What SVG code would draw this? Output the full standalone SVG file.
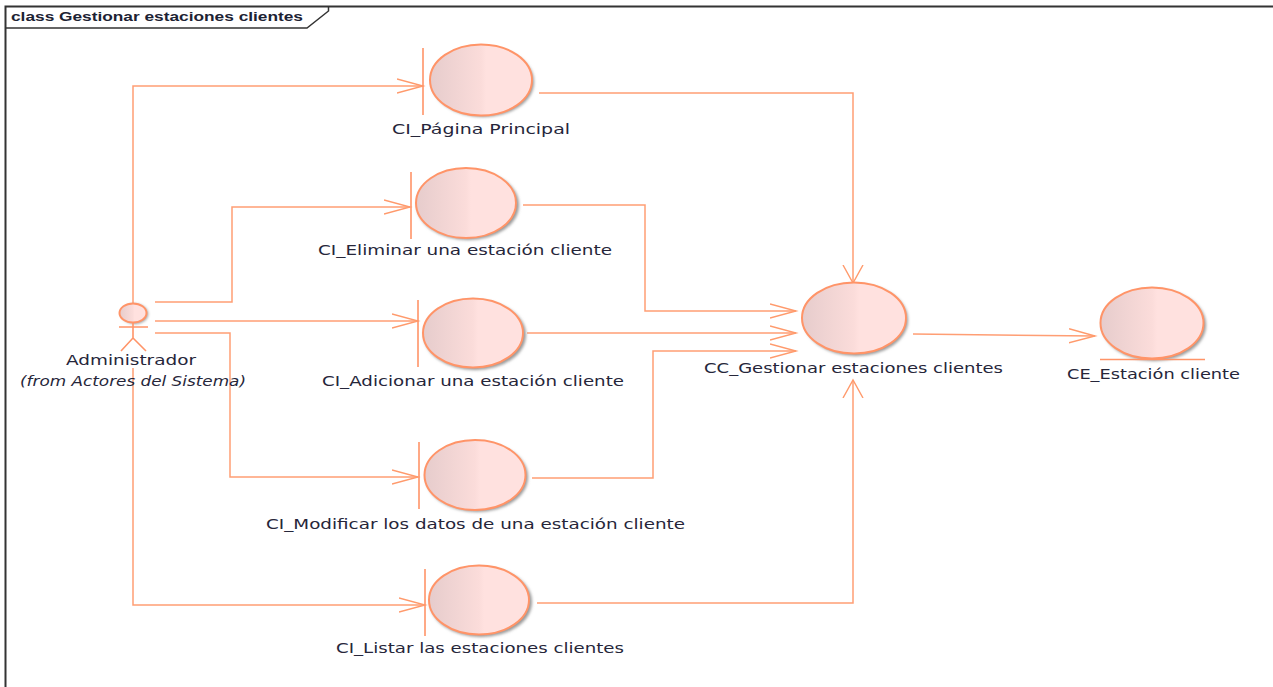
<svg xmlns="http://www.w3.org/2000/svg" width="1273" height="687" viewBox="0 0 1273 687">
<defs>
<linearGradient id="g" x1="0" x2="1" y1="0" y2="0"><stop offset="0" stop-color="#e6cccc"/><stop offset="0.5" stop-color="#fbdcda"/><stop offset="0.55" stop-color="#ffe1df"/><stop offset="1" stop-color="#ffe1df"/></linearGradient>
<marker id="a" markerUnits="userSpaceOnUse" markerWidth="30" markerHeight="24" refX="26" refY="12" orient="auto"><path d="M0 5 L26 12 L0 19" fill="none" stroke="#ff9a6c" stroke-width="1.4"/></marker>
<marker id="v" markerUnits="userSpaceOnUse" markerWidth="24" markerHeight="24" refX="18" refY="12" orient="auto"><path d="M0 2 L18 12 L0 22" fill="none" stroke="#ff9a6c" stroke-width="1.4"/></marker>
<filter id="s" x="-20%" y="-20%" width="150%" height="150%"><feGaussianBlur stdDeviation="1.5"/></filter>
</defs>
<style>
text{font-family:"DejaVu Sans","Open Sans",sans-serif;font-size:14.6px;fill:#26263a}
.c{fill:none;stroke:#ff9e74;stroke-width:1.5;marker-end:url(#a)}
.cv{fill:none;stroke:#ff9e74;stroke-width:1.5;marker-end:url(#v)}
.b{fill:url(#g);stroke:#ff9468;stroke-width:2}
.sh{fill:#999;filter:url(#s)}
.l{fill:none;stroke:#ff9468;stroke-width:1.6}
</style>
<rect width="1273" height="687" fill="#fff"/>
<g id="frame" fill="none" stroke="#333" stroke-width="1.5">
<path d="M5.500 687V6.500H1273" stroke-width="2"/>
<path d="M5.500 28H307L328.500 11V6.500"/>
<text x="11" y="21" textLength="292" lengthAdjust="spacingAndGlyphs" style="font-family:'Liberation Sans',sans-serif;font-size:12px;font-weight:bold;fill:#1c2233;stroke:none">class Gestionar estaciones clientes</text>
</g>
<g id="connectors">
<path class="c" d="M133 303V86H423"/>
<path class="c" d="M155 302H232V207H410"/>
<path class="c" d="M155 321H418"/>
<path class="c" d="M155 333H230V477H418"/>
<path class="c" d="M133 368V605H425"/>
<path class="cv" d="M539 93H853V283"/>
<path class="c" d="M523 205H645V311H796"/>
<path class="c" d="M527 333H796"/>
<path class="c" d="M532 478H653V351H796"/>
<path class="cv" d="M537 603H853V380"/>
<path class="c" d="M913 334L1095 336"/>
</g>
<g id="admin">
<ellipse class="sh" cx="135" cy="314" rx="13" ry="10"/>
<ellipse class="b" cx="133" cy="313" rx="13.500" ry="9.500"/>
<path class="l" d="M119 327H148M133 323V338L121 351M133 338L146 351"/>
<text x="66" y="365" textLength="130" lengthAdjust="spacingAndGlyphs">Administrador</text>
<text x="20" y="386" textLength="226" lengthAdjust="spacingAndGlyphs" style="font-style:italic">(from Actores del Sistema)</text>
</g>
<g id="pagina">
<ellipse class="sh" cx="483" cy="82" rx="51" ry="35"/>
<ellipse class="b" cx="481" cy="80" rx="51" ry="35.500"/>
<path class="l" d="M423 48V115"/>
<text x="392" y="134" textLength="178" lengthAdjust="spacingAndGlyphs">CI_Página Principal</text>
</g>
<g id="eliminar">
<ellipse class="sh" cx="468" cy="205" rx="51" ry="35"/>
<ellipse class="b" cx="466" cy="203" rx="50" ry="35"/>
<path class="l" d="M411 172V239"/>
<text x="318" y="255" textLength="294" lengthAdjust="spacingAndGlyphs">CI_Eliminar una estación cliente</text>
</g>
<g id="adicionar">
<ellipse class="sh" cx="475" cy="335" rx="51" ry="35"/>
<ellipse class="b" cx="473" cy="333" rx="50" ry="34.500"/>
<path class="l" d="M418 300V367"/>
<text x="322" y="386" textLength="302" lengthAdjust="spacingAndGlyphs">CI_Adicionar una estación cliente</text>
</g>
<g id="modificar">
<ellipse class="sh" cx="477" cy="477" rx="51" ry="35"/>
<ellipse class="b" cx="475" cy="475" rx="50.500" ry="35"/>
<path class="l" d="M419 442V509"/>
<text x="266" y="529" textLength="419" lengthAdjust="spacingAndGlyphs">CI_Modificar los datos de una estación cliente</text>
</g>
<g id="listar">
<ellipse class="sh" cx="481" cy="602" rx="51" ry="35"/>
<ellipse class="b" cx="479" cy="600" rx="50" ry="34.500"/>
<path class="l" d="M425 569V636"/>
<text x="336" y="653" textLength="288" lengthAdjust="spacingAndGlyphs">CI_Listar las estaciones clientes</text>
</g>
<g id="control">
<ellipse class="sh" cx="856" cy="320" rx="52" ry="36"/>
<ellipse class="b" cx="854" cy="318" rx="52" ry="35.500"/>
<text x="704" y="373" textLength="299" lengthAdjust="spacingAndGlyphs">CC_Gestionar estaciones clientes</text>
</g>
<g id="entidad">
<ellipse class="sh" cx="1154" cy="325" rx="52" ry="36"/>
<ellipse class="b" cx="1152" cy="323" rx="51.500" ry="35.500"/>
<path class="l" d="M1100 359.500H1205"/>
<text x="1067" y="379" textLength="173" lengthAdjust="spacingAndGlyphs">CE_Estación cliente</text>
</g>
</svg>
